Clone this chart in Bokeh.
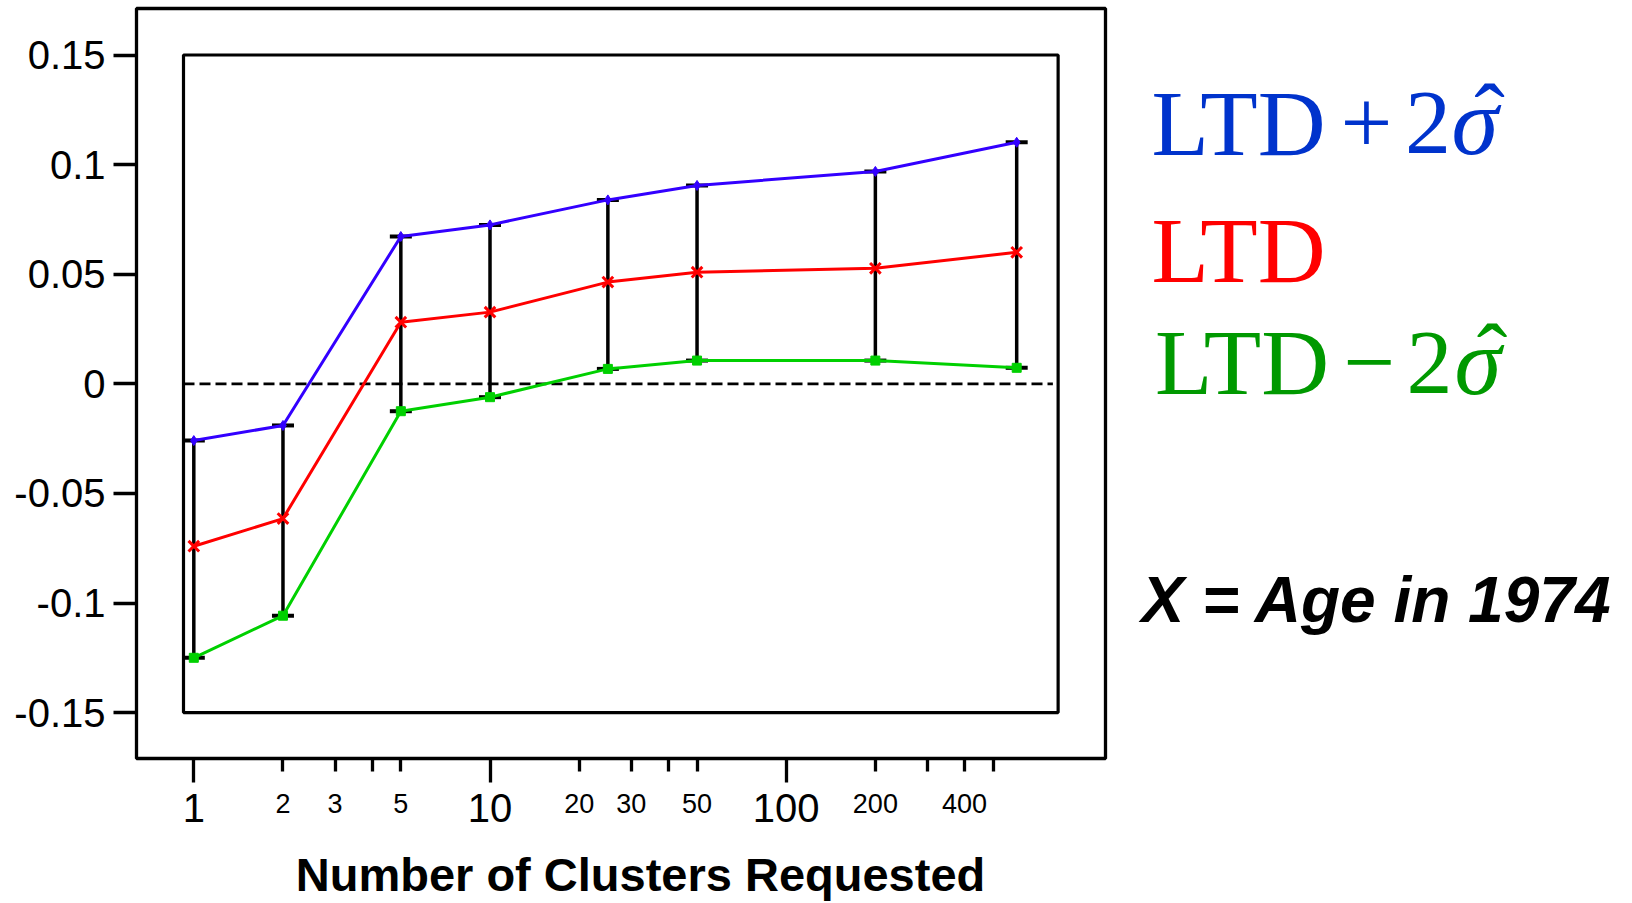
from bokeh.plotting import figure
from bokeh.layouts import row, column
from bokeh.models import (FixedTicker, Label, BoxAnnotation, Whisker, TeeHead,
                          ColumnDataSource, Range1d)
from bokeh.core.properties import value
from bokeh.embed import file_html
from bokeh.resources import INLINE

# ---------------- data ----------------
clusters = [1, 2, 5, 10, 25, 50, 200, 600]
ltd_plus_2sigma = [-0.0259, -0.0190, 0.0672, 0.0725, 0.0839, 0.0905, 0.0969, 0.1102]
ltd_values = [-0.0741, -0.0615, 0.0281, 0.0327, 0.0464, 0.0509, 0.0527, 0.0600]
ltd_minus_2sigma = [-0.1250, -0.1058, -0.0125, -0.0061, 0.0068, 0.0106, 0.0106, 0.0073]

y_ticks = [-0.15, -0.1, -0.05, 0, 0.05, 0.1, 0.15]
y_tick_labels = ["-0.15", "-0.1", "-0.05", "0", "0.05", "0.1", "0.15"]
x_major_ticks = [1, 10, 100]
x_major_labels = ["1", "10", "100"]
x_minor_ticks = [2, 3, 4, 5, 20, 30, 40, 50, 200, 300, 400, 500]
x_small_label_ticks = [2, 3, 5, 20, 30, 50, 200, 400]
x_small_labels = ["2", "3", "5", "20", "30", "50", "200", "400"]

x_title = "Number of Clusters Requested"
note_text = "X = Age in 1974"

# ---------------- style constants ----------------
BLUE_LINE = "#3300ff"
RED = "#ff0000"
GREEN_LINE = "#00d000"
BLUE_TXT = "#0033cc"
GREEN_TXT = "#009900"
SANS = "Liberation Sans"
SERIF = "Liberation Serif"
BASE_SHIFT = 0.35   # rendered baseline lies ~0.35 em below the anchor y

MAIN_H = 784        # height of the main plot canvas
TOTAL_H = 901


def anchor_y(baseline, size):
    return baseline - BASE_SHIFT * size


x_range = Range1d(0.6405, 1196.7)

# ---------------- main plot ----------------
p = figure(width=1108, height=MAIN_H, x_axis_type="log", title=None,
           x_range=x_range, y_range=(-0.17094, 0.17122),
           output_backend="svg", toolbar_location=None,
           min_border_left=136, min_border_right=3,
           min_border_top=8, min_border_bottom=MAIN_H - 758)
p.grid.visible = False
p.background_fill_color = "white"
p.border_fill_color = "white"
p.outline_line_color = "black"
p.outline_line_width = 3.3
p.outline_line_alpha = 1.0

yax = p.yaxis[0]
yax.ticker = FixedTicker(ticks=y_ticks)
yax.major_label_overrides = dict(zip(y_ticks, y_tick_labels))
yax.axis_line_color = None
yax.major_tick_in = 0
yax.major_tick_out = 23
yax.major_tick_line_width = 3.3
yax.minor_tick_line_color = None
yax.major_label_standoff = 8
yax.major_label_text_font = SANS
yax.major_label_text_font_size = "40px"
yax.major_label_text_color = "black"

xax = p.xaxis[0]
xax.ticker = FixedTicker(ticks=x_major_ticks, minor_ticks=x_minor_ticks)
xax.major_label_overrides = {t: "" for t in x_major_ticks}
xax.major_label_text_font_size = "0px"
xax.major_label_standoff = 0
xax.axis_line_color = None
xax.major_tick_in = 0
xax.major_tick_out = 24
xax.minor_tick_in = 0
xax.minor_tick_out = 13
xax.major_tick_line_width = 3.3
xax.minor_tick_line_width = 3.3
xax.minor_tick_line_color = "black"

p.add_layout(BoxAnnotation(left=0.923, right=828, bottom=-0.15, top=0.15,
                           fill_alpha=0, line_color="black", line_width=3.2, line_alpha=1.0))
p.segment(x0=[0.923], y0=[0], x1=[795], y1=[0], line_color="black",
          line_dash="11 5", line_width=2.7)

p.line(clusters, ltd_plus_2sigma, line_color=BLUE_LINE, line_width=3)
p.line(clusters, ltd_values, line_color=RED, line_width=3)
p.line(clusters, ltd_minus_2sigma, line_color=GREEN_LINE, line_width=3)
p.scatter(clusters, ltd_plus_2sigma, marker="diamond", size=10, color=BLUE_LINE)
p.scatter(clusters, ltd_minus_2sigma, marker="square", size=9, color=GREEN_LINE)
p.scatter(clusters, ltd_values, marker="x", size=15, line_color=RED, line_width=3)

src = ColumnDataSource(dict(x=clusters, upper=ltd_plus_2sigma, lower=ltd_minus_2sigma))
p.add_layout(Whisker(base="x", upper="upper", lower="lower", source=src,
                     line_color="black", line_width=3.5,
                     upper_head=TeeHead(size=22, line_width=4, line_color="black"),
                     lower_head=TeeHead(size=22, line_width=4, line_color="black")))

# ---------------- bottom strip: x tick labels and x title ----------------
pb = figure(width=1108, height=TOTAL_H - MAIN_H, x_axis_type="log", x_range=x_range,
            title=None, y_range=Range1d(TOTAL_H, MAIN_H), output_backend="svg",
            toolbar_location=None, x_axis_location=None, y_axis_location=None,
            min_border_left=136, min_border_right=3, min_border_top=0, min_border_bottom=0)
pb.grid.visible = False
pb.outline_line_color = None
pb.background_fill_color = "white"
pb.border_fill_color = "white"

pb.text(x=x_major_ticks, y=[anchor_y(821.7, 40)] * len(x_major_ticks), text=x_major_labels,
        text_font=value(SANS), text_font_size="40px", text_align="center",
        text_baseline="alphabetic", text_color="black")
pb.text(x=x_small_label_ticks, y=[anchor_y(812.7, 27)] * len(x_small_label_ticks),
        text=x_small_labels, text_font=value(SANS), text_font_size="27px",
        text_align="center", text_baseline="alphabetic", text_color="black")
pb.add_layout(Label(x=640 - 136, y=TOTAL_H - anchor_y(890, 47), x_units="screen",
                    y_units="screen", text=x_title, text_font=SANS, text_font_size="47px",
                    text_font_style="bold", text_align="center",
                    text_baseline="alphabetic", text_color="black"))

# ---------------- right strip: series captions and note ----------------
pr = figure(width=520, height=TOTAL_H, x_range=Range1d(1108, 1628), y_range=Range1d(TOTAL_H, 0),
            title=None, output_backend="svg", toolbar_location=None,
            x_axis_location=None, y_axis_location=None,
            min_border_left=0, min_border_right=0, min_border_top=0, min_border_bottom=0)
pr.grid.visible = False
pr.outline_line_color = None
pr.background_fill_color = "white"
pr.border_fill_color = "white"


def cap(text, px, baseline, size, color, font=SERIF, style="normal", align="left"):
    pr.add_layout(Label(x=px, y=anchor_y(baseline, size), x_units="data", y_units="data",
                        text=text, text_font=font, text_font_size=f"{size}px",
                        text_font_style=style, text_color=color, text_align=align,
                        text_baseline="alphabetic"))


# LTD + 2 sigma-hat
cap("LTD", 1151, 155, 94, BLUE_TXT)
cap("+", 1366, 155, 92, BLUE_TXT, align="center")
cap("2", 1427.5, 155, 92, BLUE_TXT, align="center")
cap("σ", 1451, 155, 95, BLUE_TXT, style="italic")
cap("ˆ", 1489, 148, 92, BLUE_TXT, align="center")
# LTD
cap("LTD", 1151, 282.7, 94, RED)
# LTD - 2 sigma-hat
cap("LTD", 1154.5, 394.3, 94, GREEN_TXT)
cap("−", 1369, 394.3, 92, GREEN_TXT, align="center")
cap("2", 1429, 394.3, 92, GREEN_TXT, align="center")
cap("σ", 1454, 394.3, 95, GREEN_TXT, style="italic")
cap("ˆ", 1491.5, 388, 92, GREEN_TXT, align="center")
# note
cap(note_text, 1141, 621.7, 64, "black", font=SANS, style="bold italic")

layout = row(column(p, pb), pr)
open("out.html", "w").write(file_html(layout, INLINE))
